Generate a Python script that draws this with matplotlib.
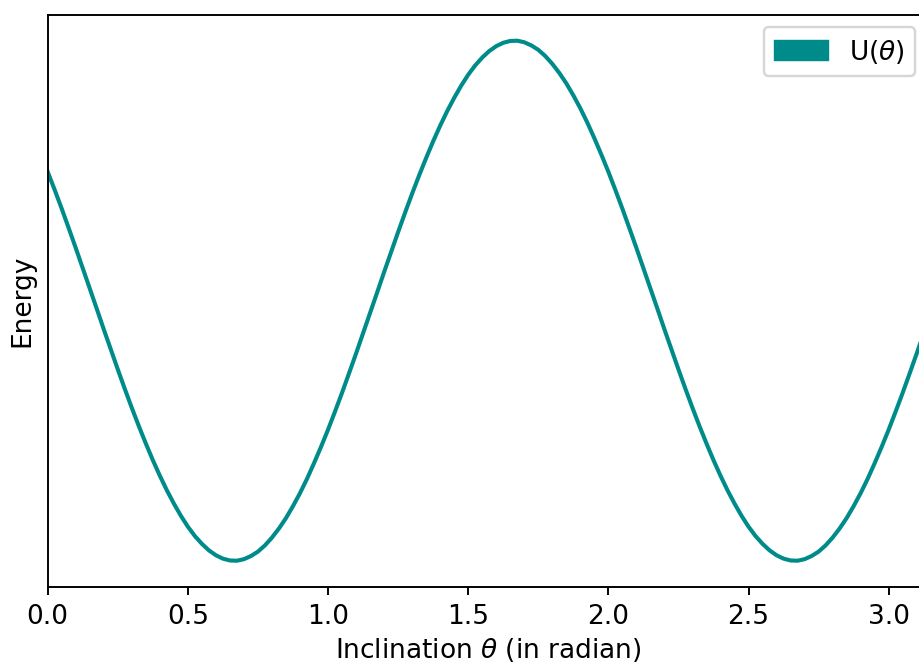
import numpy as np
import matplotlib
matplotlib.use('Agg')
import matplotlib.pyplot as plt
from matplotlib.patches import Patch

# Data (energy in arbitrary units, y axis has no ticks)
theta = [0.000, 0.025, 0.050, 0.075, 0.100, 0.125, 0.150, 0.175,
         0.200, 0.225, 0.250, 0.275, 0.300, 0.325, 0.350, 0.375,
         0.400, 0.425, 0.450, 0.475, 0.500, 0.525, 0.550, 0.575,
         0.600, 0.625, 0.650, 0.675, 0.700, 0.725, 0.750, 0.775,
         0.800, 0.825, 0.850, 0.875, 0.900, 0.925, 0.950, 0.975,
         1.000, 1.025, 1.050, 1.075, 1.100, 1.125, 1.150, 1.175,
         1.200, 1.225, 1.250, 1.275, 1.300, 1.325, 1.350, 1.375,
         1.400, 1.425, 1.450, 1.475, 1.500, 1.525, 1.550, 1.575,
         1.600, 1.625, 1.650, 1.675, 1.700, 1.725, 1.750, 1.775,
         1.800, 1.825, 1.850, 1.875, 1.900, 1.925, 1.950, 1.975,
         2.000, 2.025, 2.050, 2.075, 2.100, 2.125, 2.150, 2.175,
         2.200, 2.225, 2.250, 2.275, 2.300, 2.325, 2.350, 2.375,
         2.400, 2.425, 2.450, 2.475, 2.500, 2.525, 2.550, 2.575,
         2.600, 2.625, 2.650, 2.675, 2.700, 2.725, 2.750, 2.775,
         2.800, 2.825, 2.850, 2.875, 2.900, 2.925, 2.950, 2.975,
         3.000, 3.025, 3.050, 3.075, 3.100, 3.125, 3.150]
energy = [0.496, 0.426, 0.354, 0.279, 0.203, 0.125, 0.047, -0.031,
          -0.110, -0.187, -0.264, -0.339, -0.412, -0.482, -0.549, -0.613,
          -0.673, -0.729, -0.780, -0.827, -0.869, -0.905, -0.935, -0.960,
          -0.979, -0.992, -0.999, -1.000, -0.994, -0.982, -0.965, -0.941,
          -0.911, -0.876, -0.836, -0.790, -0.740, -0.685, -0.625, -0.562,
          -0.496, -0.426, -0.354, -0.279, -0.203, -0.125, -0.047, 0.031,
          0.110, 0.187, 0.264, 0.339, 0.412, 0.482, 0.549, 0.613,
          0.673, 0.729, 0.780, 0.827, 0.869, 0.905, 0.935, 0.960,
          0.979, 0.992, 0.999, 1.000, 0.994, 0.982, 0.965, 0.941,
          0.911, 0.876, 0.836, 0.790, 0.740, 0.685, 0.625, 0.562,
          0.496, 0.426, 0.354, 0.279, 0.203, 0.125, 0.047, -0.031,
          -0.110, -0.187, -0.264, -0.339, -0.412, -0.482, -0.549, -0.613,
          -0.673, -0.729, -0.780, -0.827, -0.869, -0.905, -0.935, -0.960,
          -0.979, -0.992, -0.999, -1.000, -0.994, -0.982, -0.965, -0.941,
          -0.911, -0.876, -0.836, -0.790, -0.740, -0.685, -0.625, -0.562,
          -0.496, -0.426, -0.354, -0.279, -0.203, -0.125, -0.047]

color = '#008B8B'

plt.rcParams['font.size'] = 11

DPI = 173
fig = plt.figure(figsize=(919 / DPI, 665 / DPI), dpi=DPI)
ax = fig.add_axes([0.0519, 0.1177, 0.9583, 0.8602])

ax.plot(theta, energy, color=color, linewidth=1.7)
ax.set_xlim(0, np.pi)
ax.set_yticks([])
ax.set_xlabel(r'Inclination $\theta$ (in radian)', labelpad=2.5)
ax.set_ylabel('Energy', labelpad=5)

ax.legend(handles=[Patch(color=color, label=r'U($\theta$)')],
          loc='upper right', bbox_to_anchor=(915 / 919, 1 - 27 / 665),
          bbox_transform=fig.transFigure, borderaxespad=0)

fig.savefig('out.png', dpi=DPI)
